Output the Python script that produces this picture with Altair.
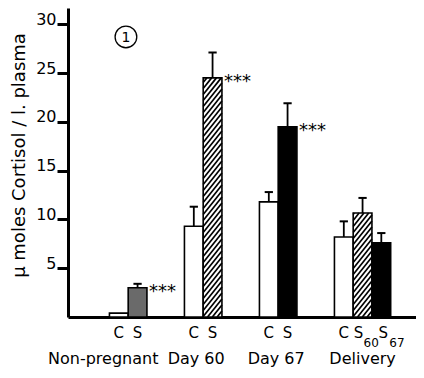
import altair as alt
import pandas as pd

# ---------------- data ----------------
groups = ["Non-pregnant", "Day 60", "Day 67", "Delivery"]
bar_group = [0, 0, 1, 1, 2, 2, 3, 3, 3]
bar_index = [0, 1, 0, 1, 0, 1, 0, 1, 2]
means = [0.4, 3.0, 9.3, 24.5, 11.8, 19.5, 8.2, 10.65, 7.6]
sems = [0.0, 0.4, 2.0, 2.6, 1.0, 2.4, 1.6, 1.55, 1.0]
fills = ["white", "stipple", "white", "hatch", "white", "black", "white", "hatch", "black"]
signif = ["", "***", "", "***", "", "***", "", "", ""]
letters = ["C", "S", "C", "S", "C", "S", "C", "S", "S"]
subscripts = ["", "", "", "", "", "", "", "60", "67"]
y_ticks = [5, 10, 15, 20, 25, 30]
y_title = "\u03bc moles Cortisol / l. plasma"

# ---------------- layout ----------------
W, H = 348, 309
SLOT_PX = 18.75
X0 = -2.21
XDOM = [X0, X0 + W / SLOT_PX]
YDOM = [0, 31.66]
KX = W / (XDOM[1] - XDOM[0])
KY = H / (YDOM[1] - YDOM[0])
FONT = "DejaVu Sans"

slots = [g * 4 + i for g, i in zip(bar_group, bar_index)]
bars = pd.DataFrame({
    "x": slots,
    "x2": [s + 1 for s in slots],
    "xc": [s + 0.5 for s in slots],
    "mean": means,
    "top": [m + e for m, e in zip(means, sems)],
    "sem": sems,
    "fill": fills,
    "sig": signif,
    "letter": letters,
    "sub": subscripts,
})

xs = alt.Scale(domain=XDOM, nice=False, zero=False)
ys = alt.Scale(domain=YDOM, nice=False, zero=False)

x_axis = alt.Axis(labels=False, ticks=False, grid=False, title=None,
                  domainWidth=3, domainColor="black")
y_axis = alt.Axis(values=y_ticks, grid=False, title=y_title,
                  domainWidth=3, domainColor="black",
                  tickWidth=3, tickSize=11, tickColor="black",
                  labelPadding=1, labelFontSize=16, labelFont=FONT,
                  labelColor="#000000", labelBaseline="alphabetic",
                  titleFont=FONT, titleFontSize=18, titleFontWeight="normal",
                  titleColor="black", titleAngle=270, titleX=-49, titleY=147,
                  titleAlign="center", titleBaseline="middle")

X = lambda f: alt.X(f, type="quantitative", scale=xs, axis=x_axis)
Y = lambda f: alt.Y(f, type="quantitative", scale=ys, axis=y_axis)

base = alt.Chart(bars)

fill_scale = alt.Scale(domain=["white", "stipple", "hatch", "black"],
                       range=["white", "#6a6a6a", "white", "black"])

bar_fill = base.mark_bar(stroke=None).encode(
    x=X("x"), x2="x2", y=Y("mean"), y2=alt.datum(0),
    fill=alt.Fill("fill:N", scale=fill_scale, legend=None),
)

# hatch lines ("/" diagonals) clipped to each hatched bar
hatch_rows = []
SLOPE, PERIOD = 1.25, 6.0
for s, m, f in zip(slots, means, fills):
    if f != "hatch":
        continue
    Wb, Hb = KX * 1.0, KY * m
    c = -SLOPE * Wb
    while c < Hb:
        w1 = max(0.0, -c / SLOPE)
        w2 = min(Wb, (Hb - c) / SLOPE)
        if w2 > w1:
            hatch_rows.append({
                "hx": s + w1 / KX, "hx2": s + w2 / KX,
                "hy": (SLOPE * w1 + c) / KY, "hy2": (SLOPE * w2 + c) / KY,
            })
        c += PERIOD
hatch = alt.Chart(pd.DataFrame(hatch_rows)).mark_rule(
    color="black", strokeWidth=1.7, strokeCap="butt"
).encode(x=X("hx"), x2="hx2", y=Y("hy"), y2="hy2")

bar_outline = base.mark_bar(fill=None, stroke="black", strokeWidth=1.6).encode(
    x=X("x"), x2="x2", y=Y("mean"), y2=alt.datum(0))

err_df = bars[bars["sem"] > 0]
err_v = alt.Chart(err_df).mark_rule(color="black", strokeWidth=1.8).encode(
    x=X("xc"), y=Y("mean"), y2="top")
err_cap = alt.Chart(err_df).transform_calculate(
    c1="datum.xc - 0.22", c2="datum.xc + 0.22"
).mark_rule(color="black", strokeWidth=2).encode(x=X("c1"), x2="c2", y=Y("top"))

sig_text = alt.Chart(bars[bars["sig"] != ""]).mark_text(
    align="left", baseline="middle", dx=2, dy=4, fontSize=18, font=FONT, color="black"
).encode(x=X("x2"), y=Y("mean"), text="sig:N")

has_sub = bars["sub"] != ""
letter_plain = alt.Chart(bars[~has_sub]).mark_text(
    align="center", baseline="alphabetic", fontSize=15, font=FONT, color="black"
).encode(x=X("xc"), y=alt.value(H + 21), text="letter:N")

sub_rows = bars[has_sub].reset_index(drop=True)
sub_layers = []
for i, (s_dx, n_dx) in enumerate([(-4, 1), (2, 8)]):
    one = sub_rows.iloc[[i]]
    sub_layers.append(alt.Chart(one).mark_text(
        align="center", baseline="alphabetic", dx=s_dx, fontSize=15, font=FONT, color="black"
    ).encode(x=X("xc"), y=alt.value(H + 21), text="letter:N"))
    sub_layers.append(alt.Chart(one).mark_text(
        align="left", baseline="alphabetic", dx=n_dx, fontSize=12, font=FONT, color="black"
    ).encode(x=X("xc"), y=alt.value(H + 30), text="sub:N"))

nbars = [bar_group.count(g) for g in range(len(groups))]
grp = pd.DataFrame({
    "label": groups,
    "gx": [g * 4 + n / 2 for g, n in enumerate(nbars)],
})
group_layers = []
for i, dx in zip(range(len(groups)), [-25, -7, -2, 0]):
    group_layers.append(
        alt.Chart(grp.iloc[[i]]).mark_text(
            align="center", baseline="alphabetic", dx=dx, fontSize=16, font=FONT, color="black"
        ).encode(x=X("gx"), y=alt.value(H + 47), text="label:N")
    )

ann = pd.DataFrame({"ax": [0.88], "ay": [28.7], "t": ["1"]})
ann_circle = alt.Chart(ann).mark_point(
    shape="circle", size=470, filled=False, stroke="black", strokeWidth=1.3, opacity=1
).encode(x=X("ax"), y=Y("ay"))
ann_text = alt.Chart(ann).mark_text(
    align="center", baseline="middle", fontSize=14, font=FONT, color="black", dy=1
).encode(x=X("ax"), y=Y("ay"), text="t:N")

chart = alt.layer(
    bar_fill, hatch, bar_outline, err_v, err_cap, sig_text,
    letter_plain, *sub_layers, *group_layers, ann_circle, ann_text
).properties(
    width=W, height=H,
    autosize=alt.AutoSizeParams(type="none"),
    padding={"left": 60, "top": 0, "right": 0, "bottom": 53},
    background="white",
).configure_view(stroke=None)

chart.save("out.html", embed_options={"renderer": "svg", "actions": False})
